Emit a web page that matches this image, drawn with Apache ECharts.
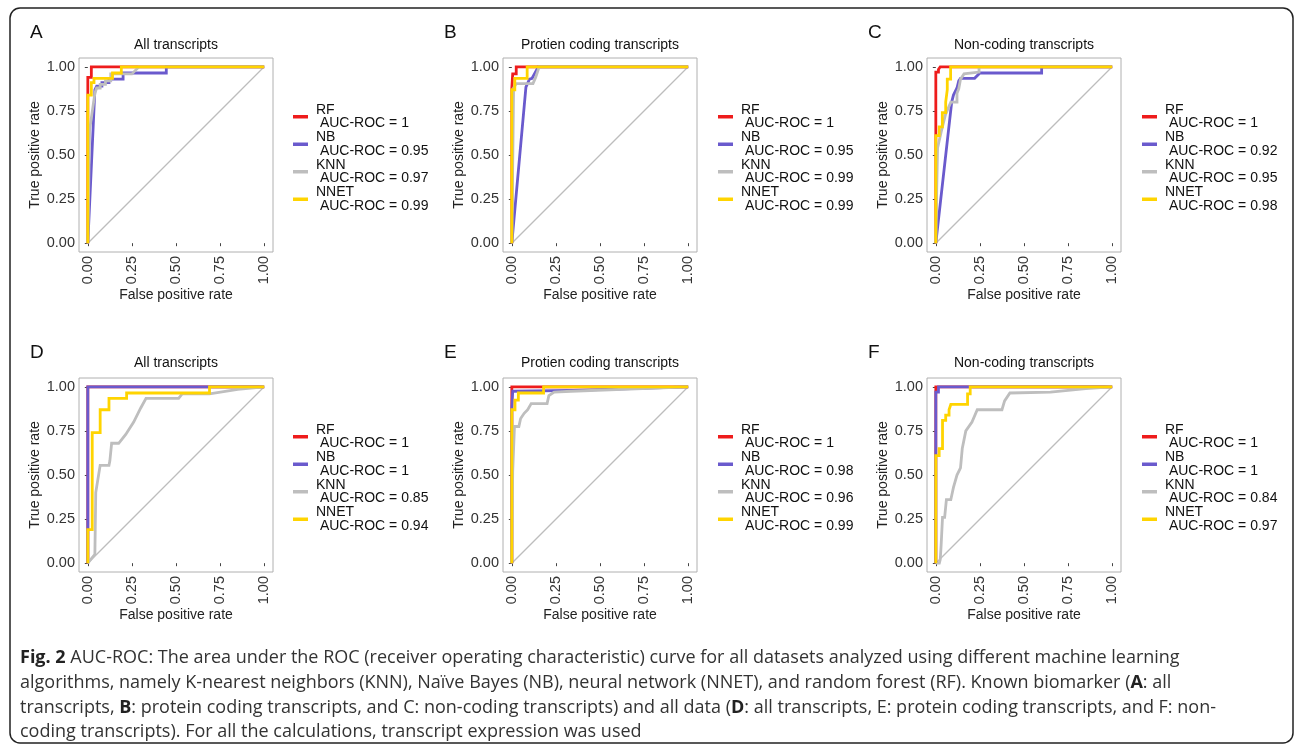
<!DOCTYPE html>
<html>
<head>
<meta charset="utf-8">
<script src="https://cdn.jsdelivr.net/npm/echarts@6/dist/echarts.min.js"></script>
<style>
  html, body { margin: 0; padding: 0; background: #fff; }
  #chart { width: 1295px; height: 747px; }
</style>
</head>
<body>
<div id="chart"></div>
<script>
// models in legend order (also draw order)
const models = ["RF", "NB", "KNN", "NNET"];
const modelColors = ["#ee1c1c", "#6a5acd", "#bebebe", "#ffd400"];
const panelLetters = ["A", "B", "C", "D", "E", "F"];
const panelTitles = ["All transcripts", "Protien coding transcripts", "Non-coding transcripts",
                     "All transcripts", "Protien coding transcripts", "Non-coding transcripts"];
const tickValues = [0, 0.25, 0.5, 0.75, 1];

// AUC labels per panel, order RF, NB, KNN, NNET
const aucA = ["1", "0.95", "0.97", "0.99"];
const aucB = ["1", "0.95", "0.99", "0.99"];
const aucC = ["1", "0.92", "0.95", "0.98"];
const aucD = ["1", "1", "0.85", "0.94"];
const aucE = ["1", "0.98", "0.96", "0.99"];
const aucF = ["1", "1", "0.84", "0.97"];

// ROC points [false positive rate, true positive rate]
const rfA = [[0,0],[0,0.86],[0,0.94],[0.02,0.94],[0.02,1],[1,1]];
const nbA = [[0,0],[0.04,0.87],[0.05,0.87],[0.05,0.89],[0.08,0.89],[0.08,0.91],[0.12,0.91],[0.12,0.93],[0.2,0.93],[0.2,0.965],[0.445,0.965],[0.445,1],[1,1]];
const knnA = [[0,0],[0.01,0.64],[0.04,0.85],[0.05,0.86],[0.05,0.88],[0.07,0.88],[0.07,0.9],[0.1,0.9],[0.1,0.92],[0.13,0.92],[0.13,0.96],[0.25,0.96],[0.29,1],[1,1]];
const nnetA = [[0,0],[0,0.84],[0.02,0.84],[0.02,0.91],[0.035,0.91],[0.035,0.935],[0.14,0.935],[0.14,0.965],[0.19,0.965],[0.19,1],[1,1]];

const rfB = [[0,0],[0,0.88],[0.005,0.96],[0.025,0.96],[0.025,1],[1,1]];
const nbB = [[0,0],[0.08,0.885],[0.1,0.93],[0.115,0.935],[0.15,1],[1,1]];
const knnB = [[0,0],[0.01,0.88],[0.025,0.905],[0.12,0.905],[0.135,0.94],[0.155,1],[1,1]];
const nnetB = [[0,0],[0,0.87],[0.017,0.87],[0.017,0.935],[0.087,0.935],[0.087,1],[1,1]];

const rfC = [[0,0],[0,0.63],[0,0.97],[0.015,0.97],[0.015,0.985],[0.025,0.985],[0.025,1],[1,1]];
const nbC = [[0,0],[0.09,0.8],[0.1,0.84],[0.11,0.85],[0.12,0.88],[0.13,0.92],[0.14,0.935],[0.22,0.935],[0.25,0.965],[0.6,0.965],[0.6,1],[1,1]];
const knnC = [[0,0],[0.005,0.3],[0.01,0.54],[0.03,0.63],[0.055,0.73],[0.085,0.8],[0.12,0.8],[0.12,0.85],[0.13,0.875],[0.14,0.93],[0.16,0.96],[0.245,0.97],[0.245,1],[1,1]];
const nnetC = [[0,0],[0,0.61],[0.019,0.61],[0.019,0.66],[0.037,0.66],[0.037,0.74],[0.056,0.74],[0.056,0.8],[0.065,0.87],[0.065,0.93],[0.084,0.93],[0.084,1],[1,1]];

const rfD = [[0,0],[0,1],[1,1]];
const nbD = [[0,0],[0,0.2],[0,1],[0.69,1],[1,1]];
const knnD = [[0,0],[0.04,0.05],[0.045,0.05],[0.045,0.4],[0.07,0.555],[0.12,0.555],[0.125,0.58],[0.135,0.58],[0.135,0.68],[0.175,0.68],[0.215,0.73],[0.26,0.8],[0.3,0.88],[0.33,0.935],[0.515,0.935],[0.535,0.96],[0.69,0.96],[0.85,0.985],[1,1]];
const nnetD = [[0,0],[0,0.19],[0.025,0.19],[0.025,0.74],[0.07,0.74],[0.07,0.87],[0.12,0.87],[0.12,0.935],[0.22,0.935],[0.22,0.965],[0.69,0.965],[0.69,1],[1,1]];

const rfE = [[0,0],[0,1],[1,1]];
const nbE = [[0,0],[0,0.88],[0.005,0.975],[0.35,0.98],[1,1]];
const knnE = [[0,0],[0.005,0.52],[0.015,0.53],[0.015,0.775],[0.04,0.775],[0.05,0.82],[0.07,0.85],[0.09,0.87],[0.1,0.87],[0.11,0.905],[0.2,0.905],[0.21,0.95],[0.24,0.97],[0.335,0.975],[0.335,0.985],[1,1]];
const nnetE = [[0,0],[0,0.87],[0.018,0.87],[0.018,0.925],[0.037,0.925],[0.037,0.965],[0.18,0.965],[0.18,1],[1,1]];

const rfF = [[0,0],[0,1],[1,1]];
const nbF = [[0,0],[0,0.62],[0,0.97],[0.015,0.97],[0.015,1],[1,1]];
const knnF = [[0,0],[0.02,0],[0.025,0.02],[0.03,0.1],[0.038,0.26],[0.05,0.26],[0.06,0.36],[0.085,0.36],[0.1,0.43],[0.12,0.5],[0.14,0.54],[0.15,0.65],[0.17,0.75],[0.205,0.8],[0.235,0.87],[0.375,0.87],[0.39,0.92],[0.42,0.965],[0.65,0.97],[0.85,0.99],[1,1]];
const nnetF = [[0,0],[0,0.61],[0.019,0.61],[0.019,0.65],[0.038,0.65],[0.038,0.81],[0.056,0.81],[0.056,0.84],[0.075,0.84],[0.075,0.87],[0.085,0.9],[0.18,0.9],[0.18,0.96],[0.195,0.96],[0.195,1],[1,1]];

const diagonal = [[0,0],[1,1]];

const captionLines = [
  "{b|Fig. 2} AUC-ROC: The area under the ROC (receiver operating characteristic) curve for all datasets analyzed using different machine learning",
  "algorithms, namely K-nearest neighbors (KNN), Naïve Bayes (NB), neural network (NNET), and random forest (RF). Known biomarker ({b|A}: all",
  "transcripts, {b|B}: protein coding transcripts, and C: non-coding transcripts) and all data ({b|D}: all transcripts, E: protein coding transcripts, and F: non-",
  "coding transcripts). For all the calculations, transcript expression was used"
];

const aucs = [aucA, aucB, aucC, aucD, aucE, aucF];
const curves = [
  [rfA, nbA, knnA, nnetA], [rfB, nbB, knnB, nnetB], [rfC, nbC, knnC, nnetC],
  [rfD, nbD, knnD, nnetD], [rfE, nbE, knnE, nnetE], [rfF, nbF, knnF, nnetF]
];

// layout
const FONT = "'Liberation Sans', Arial, sans-serif";
const CAPFONT = "'Open Sans', sans-serif";
const gridLefts = [79, 503, 927];
const gridTops = [58, 378];
const gridW = 194, gridH = 194;
const legendLefts = [293, 718, 1142];
const legendTops = [103, 423];
const titleYs = [45, 363];
const letterXs = [30, 444, 868];
const letterYs = [33, 353];

const chart = echarts.init(document.getElementById("chart"));

let grids = [], xAxes = [], yAxes = [], legends = [], series = [], graphics = [];
let legendText = {};

for (let p = 0; p < 6; p++) {
  const col = p % 3, row = Math.floor(p / 3);
  const left = gridLefts[col], top = gridTops[row];
  grids.push({
    left: left, top: top, width: gridW, height: gridH,
    show: true, borderColor: "#b0b0b0", borderWidth: 1, backgroundColor: "#fff"
  });
  xAxes.push({
    gridIndex: p, type: "value", min: -0.05, max: 1.05,
    name: "False positive rate", nameLocation: "middle", nameGap: 33,
    nameTextStyle: { fontSize: 14, color: "#222", fontFamily: FONT },
    axisLine: { show: false },
    axisTick: { show: true, length: 3, lineStyle: { color: "#444" }, customValues: tickValues },
    axisLabel: { customValues: tickValues, rotate: 90, margin: 4, fontSize: 14.5, color: "#333",
                 fontFamily: FONT, formatter: v => v.toFixed(2) },
    splitLine: { show: false }
  });
  yAxes.push({
    gridIndex: p, type: "value", min: -0.05, max: 1.05,
    name: "True positive rate", nameLocation: "middle", nameGap: 37, nameRotate: 90,
    nameTextStyle: { fontSize: 14, color: "#222", fontFamily: FONT },
    axisLine: { show: false },
    axisTick: { show: true, length: 3, lineStyle: { color: "#444" }, customValues: tickValues },
    axisLabel: { customValues: tickValues, margin: 4, fontSize: 14.5, color: "#333",
                 fontFamily: FONT, formatter: v => v.toFixed(2) },
    splitLine: { show: false }
  });

  series.push({
    type: "line", xAxisIndex: p, yAxisIndex: p, data: diagonal, symbol: "none",
    lineStyle: { color: "#bdbdbd", width: 1.3 }, silent: true, z: 1
  });
  const names = [];
  for (let m = 0; m < 4; m++) {
    const nm = panelLetters[p] + ":" + models[m];
    names.push(nm);
    legendText[nm] = models[m] + "\n AUC-ROC = " + aucs[p][m];
    series.push({
      name: nm, type: "line", xAxisIndex: p, yAxisIndex: p, data: curves[p][m],
      symbol: "none", color: modelColors[m],
      lineStyle: { color: modelColors[m], width: 2.8, join: "miter" }, z: 2
    });
  }
  legends.push({
    data: names, orient: "vertical", left: legendLefts[col], top: legendTops[row],
    padding: 0, itemGap: 0, itemWidth: 15, itemHeight: 3.5, icon: "rect",
    selectedMode: false,
    formatter: n => legendText[n],
    textStyle: { fontSize: 14, lineHeight: 13.5, color: "#111", fontFamily: FONT, padding: [0, 0, 0, 3] }
  });

  graphics.push({
    type: "text", x: left + gridW / 2, y: titleYs[row],
    style: { text: panelTitles[p], fontSize: 14, fontFamily: FONT, fill: "#111",
             textAlign: "center", textVerticalAlign: "middle" }
  });
  graphics.push({
    type: "text", x: letterXs[col], y: letterYs[row],
    style: { text: panelLetters[p], fontSize: 19, fontFamily: FONT, fill: "#111",
             textAlign: "left", textVerticalAlign: "middle" }
  });
}

graphics.push({
  type: "rect", shape: { x: 10, y: 8, width: 1283, height: 735, r: 10 },
  style: { fill: "none", stroke: "#222", lineWidth: 1.5 }, silent: true
});

const captionYs = [658, 683, 708, 732];
captionLines.forEach((t, i) => {
  graphics.push({
    type: "text", x: 20, y: captionYs[i],
    style: {
      text: t, fontSize: 18, fontFamily: CAPFONT, fill: "#333",
      textAlign: "left", textVerticalAlign: "middle",
      rich: { b: { fontSize: 18, fontWeight: "bold", fill: "#222", fontFamily: CAPFONT } }
    }
  });
});

chart.setOption({
  animation: false,
  textStyle: { fontFamily: FONT },
  grid: grids,
  xAxis: xAxes,
  yAxis: yAxes,
  legend: legends,
  series: series,
  graphic: graphics
});
</script>
</body>
</html>
